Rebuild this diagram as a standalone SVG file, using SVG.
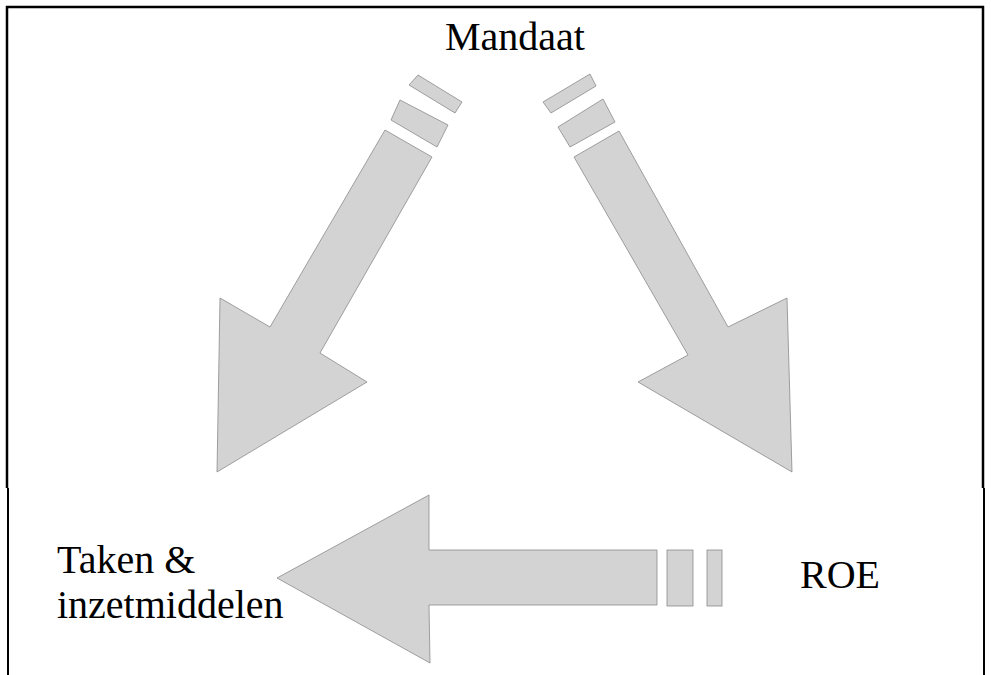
<svg xmlns="http://www.w3.org/2000/svg" width="991" height="675" viewBox="0 0 991 675">
<style>
.arrow { fill: #d3d3d3; stroke: #8a8a8a; stroke-width: 0.8; stroke-linejoin: miter; }
.lbl { font-family: "Liberation Serif", "Times New Roman", serif; font-size: 40px; fill: #000; }
.frame { stroke: #000; fill: none; }
</style>
<rect x="0" y="0" width="991" height="675" fill="#fff"/>
<g id="frame">
  <line class="frame" x1="6" y1="7" x2="984" y2="7" stroke-width="2.5"/>
  <line class="frame" x1="7" y1="6" x2="7" y2="488" stroke-width="2.5"/>
  <line class="frame" x1="8" y1="488" x2="8" y2="675" stroke-width="2"/>
  <line class="frame" x1="983" y1="6" x2="983" y2="488" stroke-width="2.5"/>
  <line class="frame" x1="984" y1="488" x2="984" y2="675" stroke-width="2" stroke="#333"/>
</g>
<g id="connectors">
  <g id="arrow-mandaat-taken">
    <polygon class="arrow" points="418,75 462,102 455,113 409,85"/>
    <polygon class="arrow" points="400,100 448,125 437,147 391,120"/>
    <polygon class="arrow" points="385,130 432,157 320,353 367,382 217,472 220,298 270,327"/>
  </g>
  <g id="arrow-mandaat-roe">
    <polygon class="arrow" points="543,102 590,74 596,86 551,113"/>
    <polygon class="arrow" points="558,127 603,99 615,122 570,147"/>
    <polygon class="arrow" points="574,157 619,131 728,327 787,298 792,472 638,382 688,355"/>
  </g>
  <g id="arrow-roe-taken">
    <rect class="arrow" x="707" y="550" width="15" height="56"/>
    <rect class="arrow" x="667" y="550" width="26" height="56"/>
    <polygon class="arrow" points="277,578 429,495 429,550 657,550 657,605 429,605 430,663"/>
  </g>
</g>
<g id="node-mandaat">
  <text class="lbl" x="445" y="50">Mandaat</text>
</g>
<g id="node-taken">
  <text class="lbl" x="57" y="573">Taken &amp;</text>
  <text class="lbl" x="57" y="618">inzetmiddelen</text>
</g>
<g id="node-roe">
  <text class="lbl" x="800" y="588">ROE</text>
</g>
</svg>
